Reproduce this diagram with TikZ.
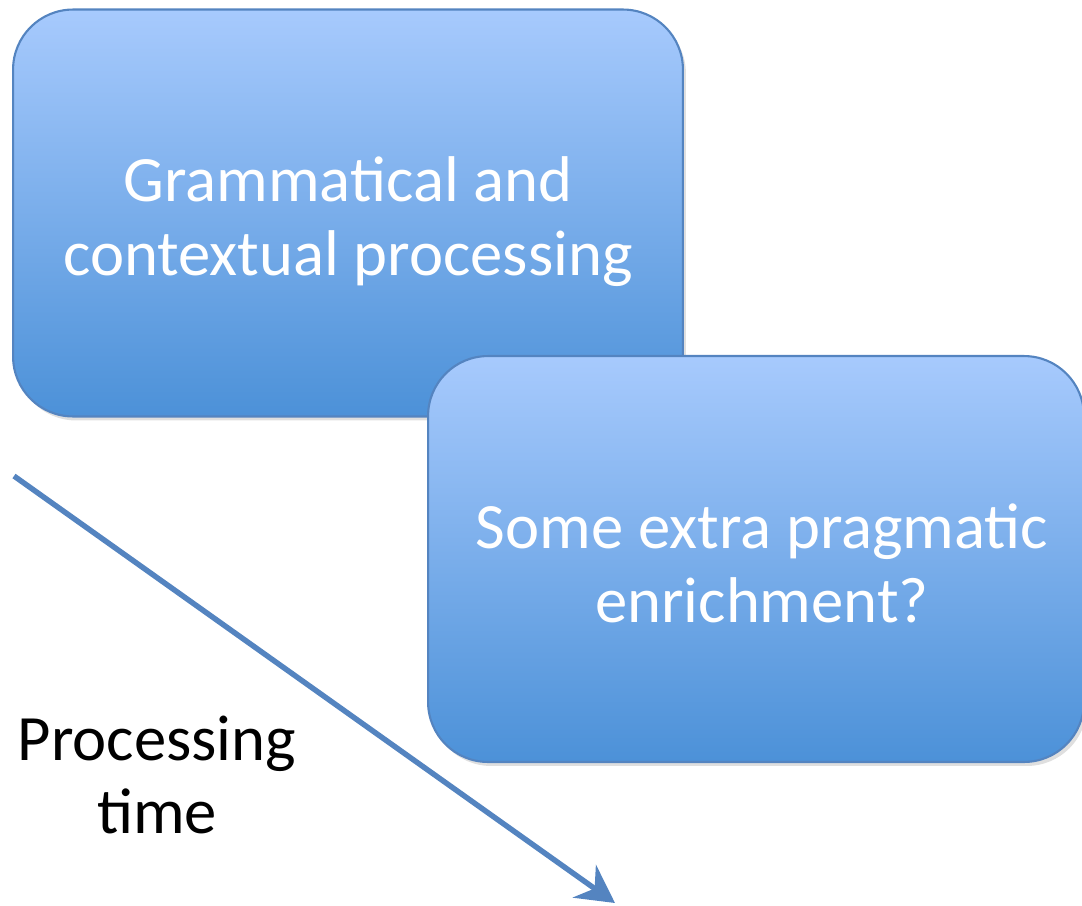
\documentclass[tikz,border=0pt]{standalone}
\usepackage{fontspec}
\setmainfont{Carlito}
\usetikzlibrary{arrows.meta,shadows}
\definecolor{boxtop}{RGB}{167,202,253}
\definecolor{boxbottom}{RGB}{76,145,216}
\definecolor{boxline}{RGB}{84,132,192}
\begin{document}
\begin{tikzpicture}[x=0.02cm,y=-0.02cm,
    stage/.style={draw=boxline,line width=1.2pt,rounded corners=1.2cm,top color=boxtop,bottom color=boxbottom,
      drop shadow={shadow xshift=0.06cm,shadow yshift=-0.08cm,opacity=0.25}},
    stagetext/.style={text=white,align=center,font=\fontsize{36.8}{42}\selectfont},
    timeline/.style={draw=boxline,line width=3.1pt,-{Stealth[length=0.75cm,width=0.8cm,inset=0.25cm]}}]

      \useasboundingbox (0,0) rectangle (1082,906);

      \node[stage,minimum width=13.4cm,minimum height=8.14cm] (first) at (348,213) {};
      \node[stagetext] (firsttext) at (348,222) {Grammatical and\\contextual processing};

      \node[stage,minimum width=13.12cm,minimum height=8.12cm] (second) at (756,559) {};
      \node[stagetext] (secondtext) at (762,563) {Some extra pragmatic\\enrichment?};

      \coordinate (start) at (14,476);
      \coordinate (stop) at (615,903);
      \draw[timeline] (start) -- (stop);

      \node[black,align=center,font=\fontsize{36.8}{42}\selectfont] (label) at (157,775) {Processing\\time};

    \end{tikzpicture}
\end{document}
